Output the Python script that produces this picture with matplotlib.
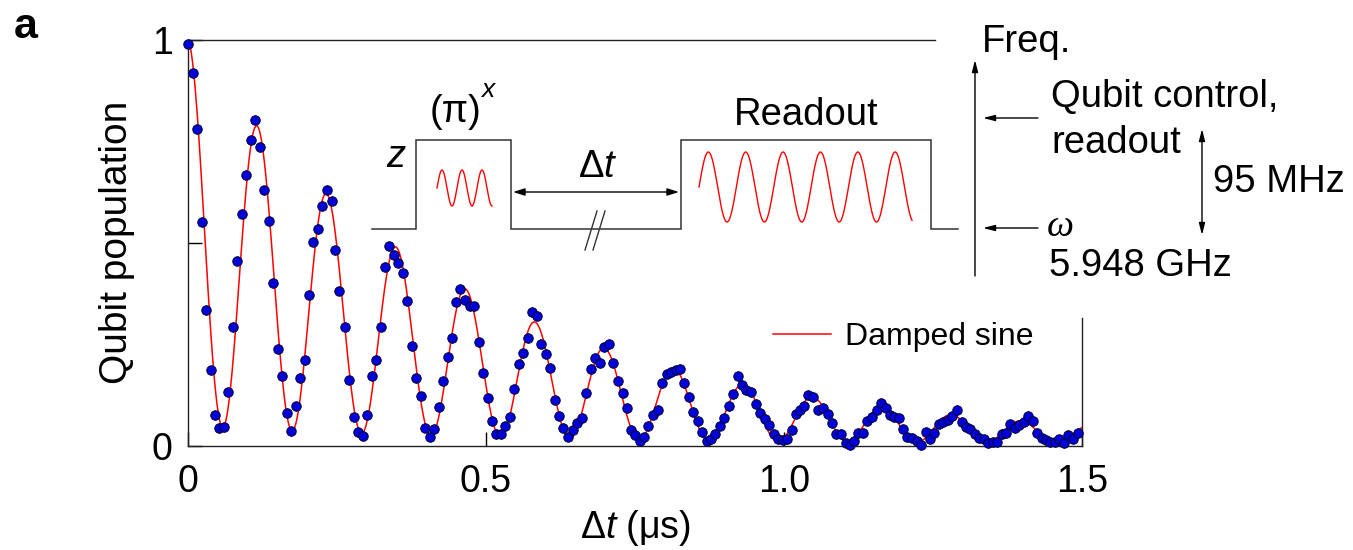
import numpy as np
import matplotlib
matplotlib.use("Agg")
import matplotlib.pyplot as plt

# ---------------- data ----------------
time_us = [
    0.000, 0.0079, 0.0157, 0.0229, 0.0307, 0.038, 0.0453, 0.0526, 0.0604, 0.0677,
    0.075, 0.0827, 0.090, 0.0973, 0.105, 0.1129, 0.120, 0.128, 0.1354, 0.1432,
    0.1505, 0.1582, 0.1656, 0.1728, 0.1807, 0.1884, 0.1958, 0.203, 0.210, 0.218,
    0.2248, 0.2332, 0.241, 0.2472, 0.2539,
    0.2634, 0.270, 0.2785, 0.2847, 0.293, 0.300, 0.308, 0.315, 0.323, 0.3305,
    0.3378, 0.3456, 0.353, 0.3607, 0.368, 0.376, 0.383, 0.3904, 0.3977, 0.4055,
    0.4128, 0.4206, 0.428, 0.4357, 0.4424, 0.450, 0.457, 0.4648, 0.4726, 0.480,
    0.4877, 0.4955, 0.5028, 0.5096,
    0.5168, 0.525, 0.532, 0.540, 0.547, 0.555, 0.5626, 0.570, 0.5777, 0.5856,
    0.5928, 0.600, 0.608, 0.6158, 0.623, 0.630, 0.638, 0.6455, 0.653, 0.6606,
    0.668, 0.6756, 0.683, 0.6906, 0.698, 0.7058, 0.7136, 0.721, 0.7294, 0.736,
    0.7433, 0.7505, 0.758, 0.765,
    0.7723, 0.781, 0.788, 0.796, 0.803, 0.8104, 0.818, 0.8255, 0.8327, 0.840,
    0.8478, 0.855, 0.863, 0.870, 0.878, 0.885, 0.8926, 0.900, 0.9077, 0.915,
    0.923, 0.930, 0.937, 0.945, 0.953, 0.960, 0.968, 0.975, 0.983, 0.990,
    0.9978, 1.0055, 1.0127, 1.020, 1.027, 1.034,
    1.041, 1.049, 1.0575, 1.065, 1.073, 1.081, 1.088, 1.096, 1.104, 1.111,
    1.1175, 1.1245, 1.133, 1.140, 1.148, 1.1555, 1.1628, 1.1705, 1.178, 1.185,
    1.193, 1.200, 1.207, 1.215, 1.2227, 1.230, 1.2375, 1.245, 1.252, 1.260,
    1.267, 1.2745, 1.282, 1.2895,
    1.298, 1.305, 1.3126, 1.3205, 1.3277, 1.3356, 1.3428, 1.350, 1.358, 1.3653,
    1.372, 1.380, 1.3876, 1.3948, 1.4027, 1.410, 1.417, 1.425, 1.4325, 1.4396,
    1.447, 1.4547, 1.462, 1.470, 1.4767, 1.485, 1.4928,
]
population = [
    0.989, 0.919, 0.781, 0.551, 0.335, 0.185, 0.075, 0.044, 0.046, 0.131,
    0.293, 0.456, 0.572, 0.668, 0.754, 0.803, 0.736, 0.629, 0.553, 0.400,
    0.238, 0.172, 0.080, 0.036, 0.098, 0.166, 0.210, 0.372, 0.503, 0.534,
    0.590, 0.631, 0.604, 0.481, 0.382,
    0.293, 0.162, 0.070, 0.034, 0.024, 0.075, 0.172, 0.211, 0.292, 0.441,
    0.491, 0.469, 0.451, 0.425, 0.357, 0.246, 0.166, 0.121, 0.044, 0.022,
    0.041, 0.096, 0.158, 0.219, 0.265, 0.353, 0.386, 0.359, 0.343, 0.343,
    0.255, 0.180, 0.118, 0.060,
    0.028, 0.028, 0.048, 0.071, 0.139, 0.200, 0.228, 0.265, 0.329, 0.320,
    0.250, 0.226, 0.191, 0.112, 0.073, 0.044, 0.022, 0.038, 0.055, 0.067,
    0.129, 0.188, 0.215, 0.204, 0.242, 0.251, 0.204, 0.160, 0.130, 0.092,
    0.038, 0.026, 0.012, 0.022,
    0.048, 0.075, 0.088, 0.155, 0.176, 0.182, 0.185, 0.188, 0.155, 0.119,
    0.083, 0.060, 0.034, 0.012, 0.015, 0.028, 0.049, 0.067, 0.098, 0.126,
    0.172, 0.149, 0.137, 0.131, 0.102, 0.080, 0.065, 0.051, 0.028, 0.015,
    0.014, 0.015, 0.038, 0.078, 0.088, 0.098,
    0.125, 0.119, 0.088, 0.092, 0.078, 0.056, 0.028, 0.028, 0.007, 0.001,
    0.011, 0.032, 0.030, 0.060, 0.071, 0.088, 0.104, 0.092, 0.075, 0.070,
    0.067, 0.040, 0.020, 0.018, 0.011, 0.001, 0.033, 0.016, 0.032, 0.053,
    0.059, 0.063, 0.073, 0.088,
    0.059, 0.046, 0.040, 0.028, 0.018, 0.015, 0.005, 0.009, 0.009, 0.028,
    0.030, 0.053, 0.042, 0.051, 0.059, 0.073, 0.061, 0.030, 0.018, 0.014,
    0.009, 0.009, 0.015, 0.005, 0.026, 0.015, 0.030,
]
population_err = 0.012

# damped-sine fit parameters
fit_mean = 0.52
fit_amplitude = 0.475
fit_offset = 0.005
fit_decay_us = 0.485
fit_period_us = 0.1165

x_ticks = [0, 0.5, 1.0, 1.5]
x_ticklabels = ["0", "0.5", "1.0", "1.5"]
y_ticks = [0, 0.5, 1]
y_ticklabels = ["0", "", "1"]

# ---------------- styling ----------------
plt.rcParams["font.family"] = ["Liberation Sans", "DejaVu Sans"]
plt.rcParams["mathtext.fontset"] = "custom"
plt.rcParams["mathtext.rm"] = "Liberation Sans"
plt.rcParams["mathtext.it"] = "Liberation Sans:italic"
plt.rcParams["mathtext.bf"] = "Liberation Sans:bold"

W, H = 1353, 550
fig = plt.figure(figsize=(W / 100, H / 100), dpi=100)
ax_l, ax_r, ax_t, ax_b = 188, 1082, 40, 445.5
ax = fig.add_axes([ax_l / W, 1 - ax_b / H, (ax_r - ax_l) / W, (ax_b - ax_t) / H])

FS = 27.5
t_arr = np.asarray(time_us)
tf = np.linspace(0, 1.5, 2000)
fit_curve = np.exp(-tf / fit_decay_us) * (fit_mean + fit_amplitude * np.cos(2 * np.pi * tf / fit_period_us)) + fit_offset
ax.plot(tf, fit_curve, color="red", lw=1.1, zorder=2, label="Damped sine")

eb = ax.errorbar(t_arr, population, yerr=population_err, fmt="o", ms=6.8,
                 mfc="#0000d8", mec="#000030", mew=0.7, ecolor="#1010ff",
                 elinewidth=1.0, capsize=0, zorder=3)
for art in eb.lines[0:1] + tuple(eb.lines[2]):
    art.set_clip_on(False)

ax.set_xlim(0, 1.5)
ax.set_ylim(0, 1)
ax.set_xticks(x_ticks)
ax.set_xticklabels(x_ticklabels)
ax.set_yticks(y_ticks)
ax.set_yticklabels(y_ticklabels)
ax.tick_params(axis="both", direction="in", length=10, width=1.0, labelsize=27)
ax.tick_params(axis="x", pad=13)
ax.tick_params(axis="y", pad=11)
for s in ax.spines.values():
    s.set_linewidth(1.0)
    s.set_color("#222222")
ax.spines["top"].set_bounds(0, 1.253)
ax.spines["right"].set_bounds(0, 0.315)

ax.set_xlabel(r"$\Delta t$ (μs)", fontsize=27, labelpad=6)
ax.set_ylabel("Qubit population", fontsize=28, labelpad=12)

ax.legend(loc="center left", bbox_to_anchor=((773 - ax_l) / (ax_r - ax_l), (ax_b - 337) / (ax_b - ax_t)),
          frameon=False, fontsize=23, handlelength=1.8, handletextpad=0.45,
          borderpad=0, borderaxespad=0)

# ---------------- schematic overlay (pixel layout) ----------------
ov = fig.add_axes([0, 0, 1, 1], facecolor="none")
ov.set_xlim(0, W)
ov.set_ylim(H, 0)
ov.axis("off")

base_y, top_y = 229, 140
lc = "#333333"
ov.plot([372, 416, 416, 511, 511, 681, 681, 931, 931, 958],
        [base_y, base_y, top_y, top_y, base_y, base_y, top_y, top_y, base_y, base_y],
        color=lc, lw=1.1, solid_joinstyle="miter")
# break marks
ov.plot([585, 597], [250, 211], color=lc, lw=1.0)
ov.plot([593, 605], [250, 211], color=lc, lw=1.0)

# pulse carriers
ph = np.linspace(0, 2.75, 300)
ov.plot(437 + (492 - 437) * ph / 2.75, 188 - 18 * np.sin(2 * np.pi * ph), color="red", lw=1.0)
ph2 = np.linspace(0, 5.7, 600)
ov.plot(699 + (912 - 699) * ph2 / 5.7, 187 - 35 * np.sin(2 * np.pi * ph2), color="red", lw=1.0)

arrow_kw = dict(color="black", lw=1.0, shrinkA=0, shrinkB=0)
ov.annotate("", xy=(513, 192), xytext=(679, 192),
            arrowprops=dict(arrowstyle="<|-|>,head_length=0.7,head_width=0.22", **arrow_kw))
ov.annotate("", xy=(975, 60), xytext=(975, 276),
            arrowprops=dict(arrowstyle="-|>,head_length=0.7,head_width=0.18", **arrow_kw))
ov.annotate("", xy=(983, 118), xytext=(1038, 118),
            arrowprops=dict(arrowstyle="-|>,head_length=0.7,head_width=0.18", **arrow_kw))
ov.annotate("", xy=(983, 228), xytext=(1038, 228),
            arrowprops=dict(arrowstyle="-|>,head_length=0.7,head_width=0.18", **arrow_kw))
ov.annotate("", xy=(1202, 129), xytext=(1202, 235),
            arrowprops=dict(arrowstyle="<|-|>,head_length=0.7,head_width=0.18", **arrow_kw))

ov.text(396, 167, "z", fontsize=FS, style="italic", ha="center", va="baseline")
ov.text(455, 122, "(π)", fontsize=FS, ha="center", va="baseline")
ov.text(481, 97, "x", fontsize=19, style="italic", ha="left", va="baseline")
ov.text(598, 177, r"$\Delta t$", fontsize=FS, ha="center", va="baseline")
ov.text(806, 125, "Readout", fontsize=FS, ha="center", va="baseline")
ov.text(982, 52, "Freq.", fontsize=FS, ha="left", va="baseline")
ov.text(1051, 107, "Qubit control,", fontsize=FS, ha="left", va="baseline")
ov.text(1051, 153, "readout", fontsize=FS, ha="left", va="baseline")
ov.text(1213, 192, "95 MHz", fontsize=FS, ha="left", va="baseline")
ov.text(1047, 236, "ω", fontsize=FS, family="Liberation Serif", style="italic", ha="left", va="baseline")
ov.text(1049, 276, "5.948 GHz", fontsize=FS, ha="left", va="baseline")
ov.text(14, 38, "a", fontsize=31, fontweight="bold", ha="left", va="baseline")

fig.savefig("out.png", dpi=100)
